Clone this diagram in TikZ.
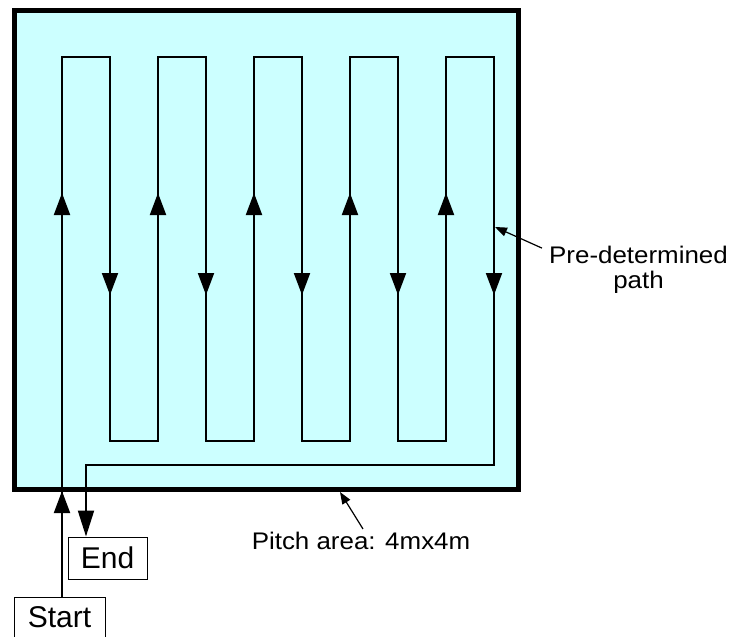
\documentclass[tikz,border=0pt]{standalone}
\usepackage{fontspec}
\setmainfont{Liberation Sans}
\newfontfamily\labelfont[FakeStretch=1.08]{Liberation Sans}
\usetikzlibrary{arrows.meta}
\definecolor{pitchfill}{RGB}{204,255,255}

\begin{document}
\begin{tikzpicture}
[x=1pt,y=-1pt,
	pitcharea/.style={draw,line width=5pt,fill=pitchfill,inner sep=0pt,minimum width=503.5pt,minimum height=479.5pt},
	route/.style={line width=2pt},
	dirarrow/.style={route,-{Triangle[length=22pt,width=16pt]}},
	tagbox/.style={draw,line width=1pt,fill=white,inner sep=0pt,font=\fontsize{30}{30}\selectfont},
	leadline/.style={line width=1.2pt,-{Triangle[length=12pt,width=9pt]}},
	caption/.style={inner sep=0pt,align=center,font=\labelfont\fontsize{24}{25}\selectfont}]
\useasboundingbox (0,0) rectangle (732,637);

\node[pitcharea] (pitch) at (266.25,249.75) {};
\node[tagbox,minimum width=79pt,minimum height=42pt] (finish) at (107.5,558) {End};
\node[tagbox,minimum width=91pt,minimum height=40pt] (start) at (59.5,617) {Start};

% serpentine path over the pitch
\draw[route,-{Triangle[length=26pt,width=16pt]}] ([xshift=2.5pt]start.north)
	\foreach \c in {0,...,3} { -- (62+96*\c,57) -- (110+96*\c,57) -- (110+96*\c,441) -- (158+96*\c,441) }
	-- (446,57) -- (494,57) -- (494,465) -- (86,465) -- ([xshift=-21.5pt]finish.north);

% direction marks
\foreach \c in {0,...,4} {
	\draw[dirarrow] (62+96*\c,215) -- (62+96*\c,193);
	\draw[dirarrow] (110+96*\c,273) -- (110+96*\c,295);
}
\draw[dirarrow] (62,514) -- (62,491);

\node[caption] (pathnote) at (638.5,270) {Pre-determined\\path};
\node[caption] (pitchnote) at (361,541) {Pitch area: 4mx4m};
\coordinate (routemark) at (495,227);
\coordinate (edgemark) at (340,492);
\draw[leadline] ([xshift=-7pt,yshift=-2pt]pathnote.north west) -- (routemark);
\draw[leadline] ([xshift=2pt,yshift=3pt]pitchnote.north) -- (edgemark);
\end{tikzpicture}
\end{document}
